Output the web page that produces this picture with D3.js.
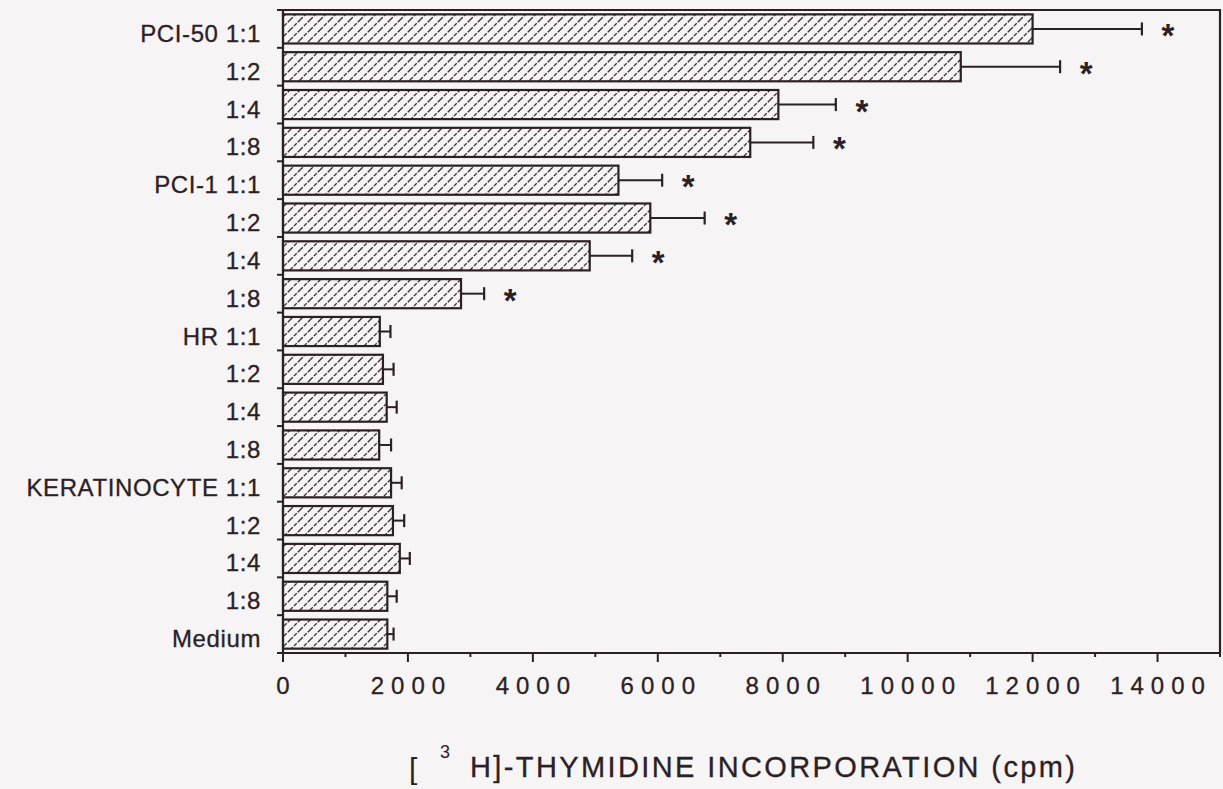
<!DOCTYPE html>
<html>
<head>
<meta charset="utf-8">
<script src="https://cdn.jsdelivr.net/npm/d3@7"></script>
<style>
    body { margin: 0; background: #f7f4f5; }
    svg { display: block; font-family: "Liberation Sans", Arial, sans-serif; }
</style>
</head>
<body>
<svg id="chart" width="1223" height="789"></svg>
<script>
// 数据
const LABELS = ["PCI-50 1:1", "1:2", "1:4", "1:8", "PCI-1 1:1", "1:2", "1:4", "1:8",
    "HR 1:1", "1:2", "1:4", "1:8", "KERATINOCYTE 1:1", "1:2", "1:4", "1:8", "Medium"];
const MEANS = [12000, 10850, 7930, 7480, 5370, 5880, 4910, 2850,
    1550, 1600, 1660, 1540, 1730, 1760, 1870, 1670, 1670];
const SEMS = [1750, 1590, 920, 1010, 700, 870, 680, 370,
    170, 170, 160, 190, 170, 180, 160, 150, 100];
const SIGNIFICANT = [true, true, true, true, true, true, true, true,
    false, false, false, false, false, false, false, false, false];
const X_MAJOR = [0, 2000, 4000, 6000, 8000, 10000, 12000, 14000];
const X_MINOR = [1000, 3000, 5000, 7000, 9000, 11000, 13000, 15000];

const SVG = d3.select("#chart");
const INK = "#2b2124";
const LEFT = 283, RIGHT = 1220, TOP = 10, BOTTOM = 653;
const FONT = 24;

const X_SCALE = d3.scaleLinear().domain([0, 15000]).range([LEFT, RIGHT]);
const Y_SCALE = d3.scaleBand().domain(d3.range(LABELS.length))
    .range([TOP, BOTTOM]).paddingInner(0.23).paddingOuter(0.115);

// 斜线填充
let defs = SVG.append("defs");
let pat = defs.append("pattern")
    .attr("id", "hatch")
    .attr("patternUnits", "userSpaceOnUse")
    .attr("width", 10).attr("height", 10);
pat.append("path")
    .attr("d", "M-1,1 l2,-2 M0,10 l10,-10 M9,11 l2,-2")
    .attr("stroke", "#3a2c30")
    .attr("stroke-width", 1.3)
    .attr("stroke-dasharray", "4,1.5");

let g = SVG.append("g");

/** 画柱子 **/
function draw_bars() {
    g.selectAll("rect.bar")
        .data(MEANS)
        .join("rect")
        .attr("class", "bar")
        .attr("x", X_SCALE(0))
        .attr("y", (d, i) => Y_SCALE(i))
        .attr("width", d => X_SCALE(d) - X_SCALE(0))
        .attr("height", Y_SCALE.bandwidth())
        .attr("fill", "url(#hatch)")
        .attr("stroke", INK)
        .attr("stroke-width", 2.2);
}

/** 画误差线和星号 **/
function draw_errors() {
    const CAP = 13;
    MEANS.forEach((m, i) => {
        let cy = Y_SCALE(i) + Y_SCALE.bandwidth() / 2;
        let x1 = X_SCALE(m), x2 = X_SCALE(m + SEMS[i]);
        g.append("line")
            .attr("x1", x1).attr("x2", x2)
            .attr("y1", cy).attr("y2", cy)
            .attr("stroke", INK).attr("stroke-width", 2);
        g.append("line")
            .attr("x1", x2).attr("x2", x2)
            .attr("y1", cy - CAP / 2).attr("y2", cy + CAP / 2)
            .attr("stroke", INK).attr("stroke-width", 2.2);
        if (SIGNIFICANT[i]) {
            g.append("text")
                .text("*")
                .attr("x", x2 + 26)
                .attr("y", cy + 18)
                .attr("text-anchor", "middle")
                .attr("font-size", 33)
                .attr("font-weight", "bold")
                .attr("fill", INK);
        }
    });
}

/** 画坐标轴和边框 **/
function draw_axes() {
    // 边框
    g.append("path")
        .attr("d", `M${LEFT},${BOTTOM}V${TOP}H${RIGHT}V${BOTTOM}Z`)
        .attr("fill", "none")
        .attr("stroke", INK)
        .attr("stroke-width", 2.2);
    // y轴刻度在分类边界
    let step = Y_SCALE.step();
    let bounds = d3.range(LABELS.length + 1).map(i => TOP + i * step);
    g.selectAll("line.ytick")
        .data(bounds)
        .join("line")
        .attr("class", "ytick")
        .attr("x1", LEFT - 6).attr("x2", LEFT)
        .attr("y1", d => d).attr("y2", d => d)
        .attr("stroke", INK).attr("stroke-width", 2);
    // y轴文字
    g.selectAll("text.ylab")
        .data(LABELS)
        .join("text")
        .attr("class", "ylab")
        .text(d => d)
        .attr("x", 261)
        .attr("y", (d, i) => Y_SCALE(i) + Y_SCALE.bandwidth() / 2 + 13)
        .attr("text-anchor", "end")
        .attr("font-size", FONT)
        .attr("letter-spacing", 0.6)
        .attr("fill", INK)
        .attr("stroke", INK)
        .attr("stroke-width", 0.3);
    // x轴刻度
    g.selectAll("line.xmajor")
        .data(X_MAJOR)
        .join("line")
        .attr("class", "xmajor")
        .attr("x1", d => X_SCALE(d)).attr("x2", d => X_SCALE(d))
        .attr("y1", BOTTOM).attr("y2", BOTTOM + 9)
        .attr("stroke", INK).attr("stroke-width", 2);
    g.selectAll("line.xminor")
        .data(X_MINOR)
        .join("line")
        .attr("class", "xminor")
        .attr("x1", d => X_SCALE(d)).attr("x2", d => X_SCALE(d))
        .attr("y1", BOTTOM).attr("y2", BOTTOM + 4)
        .attr("stroke", INK).attr("stroke-width", 2);
    g.selectAll("text.xlab")
        .data(X_MAJOR)
        .join("text")
        .attr("class", "xlab")
        .text(d => d)
        .attr("x", d => X_SCALE(d))
        .attr("dx", 3.5)
        .attr("y", 694)
        .attr("text-anchor", "middle")
        .attr("font-size", FONT)
        .attr("letter-spacing", 7)
        .attr("fill", INK)
        .attr("stroke", INK)
        .attr("stroke-width", 0.3);
}

/** 画x轴标题 **/
function draw_title() {
    g.append("text").text("[")
        .attr("x", 409).attr("y", 779)
        .attr("font-size", 30).attr("fill", INK);
    g.append("text").text("3")
        .attr("x", 440).attr("y", 758)
        .attr("font-size", 18).attr("fill", INK);
    g.append("text").text("H]-THYMIDINE INCORPORATION (cpm)")
        .attr("x", 470).attr("y", 777)
        .attr("font-size", 29)
        .attr("textLength", 605)
        .attr("lengthAdjust", "spacing")
        .attr("fill", INK)
        .attr("stroke", INK)
        .attr("stroke-width", 0.3);
}

draw_bars();
draw_errors();
draw_axes();
draw_title();
</script>
</body>
</html>
